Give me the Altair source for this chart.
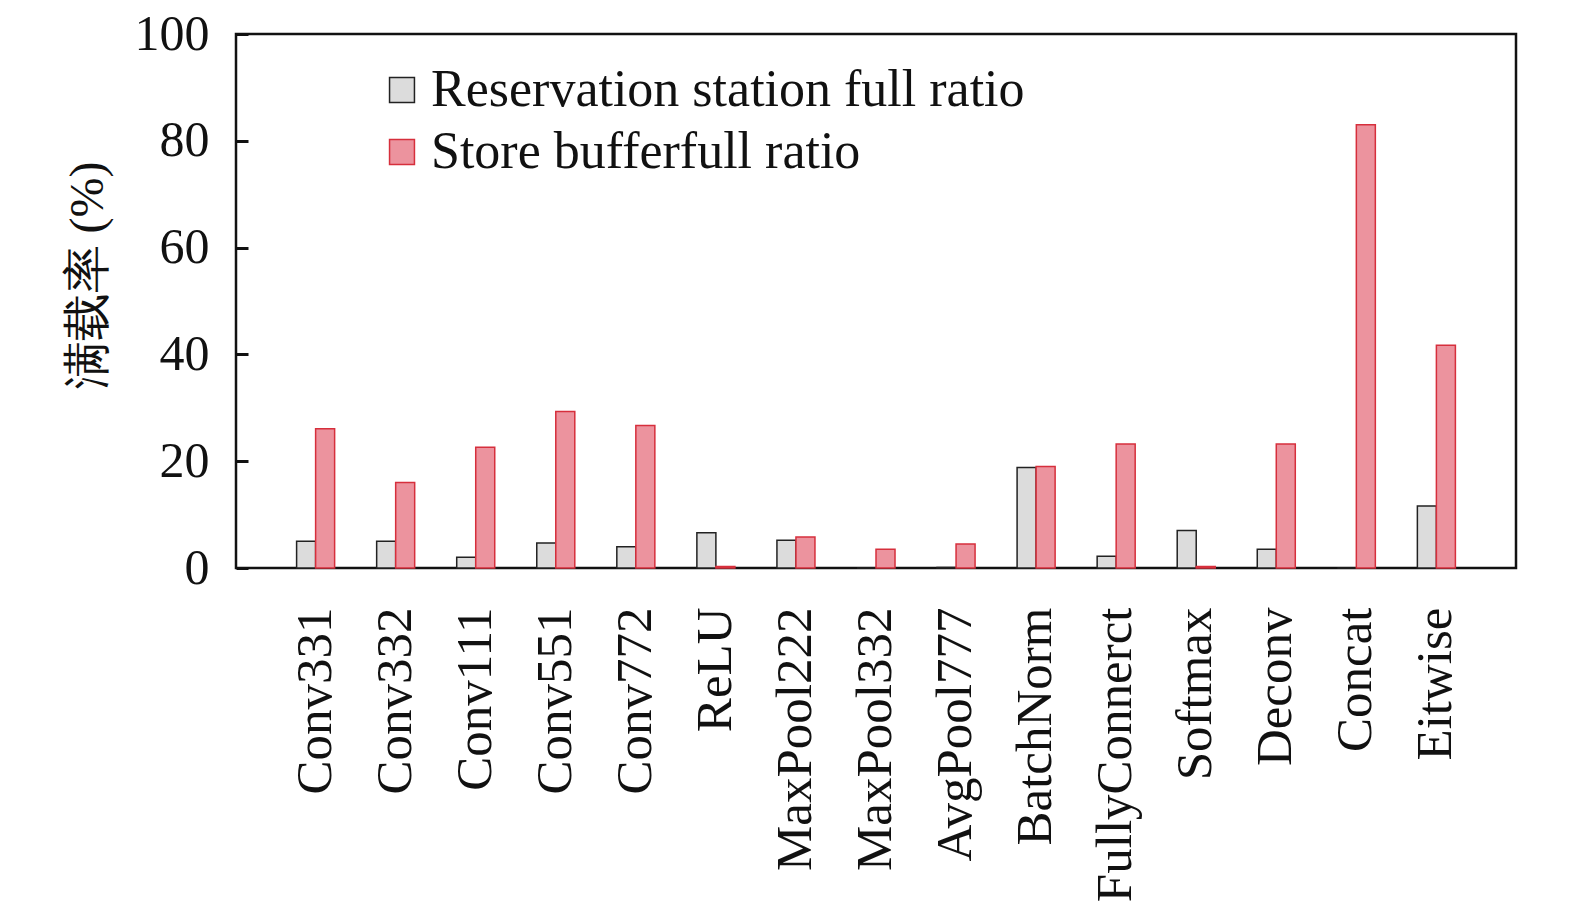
import altair as alt
import pandas as pd

categories = ["Conv331", "Conv332", "Conv111", "Conv551", "Conv772", "ReLU",
              "MaxPool222", "MaxPool332", "AvgPool777", "BatchNorm",
              "FullyConnerct", "Softmax", "Deconv", "Concat", "Eitwise"]
reservation = [5.0, 5.0, 2.0, 4.7, 4.0, 6.6, 5.2, 0.0, 0.1, 18.8, 2.2, 7.0, 3.5, 0.0, 11.6]
store = [26.1, 16.0, 22.6, 29.3, 26.7, 0.3, 5.8, 3.5, 4.5, 19.0, 23.2, 0.3, 23.2, 83.0, 41.7]
series = ["Reservation station full ratio", "Store bufferfull ratio"]
y_ticks = [0, 20, 40, 60, 80, 100]

rows = []
for c, r, s in zip(categories, reservation, store):
    rows.append({"layer": c, "series": series[0], "value": r})
    rows.append({"layer": c, "series": series[1], "value": s})
df = pd.DataFrame(rows)

FONT = "Liberation Serif"

legend_kw = dict(title=None, orient="none", legendX=140, legendY=30,
                 symbolType="square", symbolSize=620, symbolStrokeWidth=1.5,
                 labelFont=FONT, labelFontSize=52, labelColor="#111",
                 labelLimit=1000, rowPadding=10, labelOffset=3)

chart = alt.Chart(df).mark_bar(strokeWidth=1.5).encode(
    x=alt.X("layer:N", sort=categories,
            scale=alt.Scale(paddingInner=0.525, paddingOuter=0.757),
            axis=alt.Axis(title=None, labelAngle=-90, labelAlign="right",
                          labelBaseline="middle", ticks=False, tickSize=0,
                          domain=False, labelPadding=39, labelFont=FONT,
                          labelFontSize=51, labelColor="#111", labelLimit=1000)),
    xOffset=alt.XOffset("series:N", sort=series,
                        scale=alt.Scale(paddingInner=0, paddingOuter=0)),
    y=alt.Y("value:Q", scale=alt.Scale(domain=[0, 100], nice=False),
            axis=alt.Axis(values=y_ticks, title="满载率 (%)", grid=False,
                          domain=False, offset=-12, tickSize=12, tickWidth=3,
                          tickColor="#111", labelPadding=27, labelFont=FONT,
                          labelFontSize=50, labelColor="#111",
                          titleFont=FONT, titleFontSize=48, titleFontWeight="normal",
                          titleColor="#111", titleAngle=-90, titleX=-136, titleY=241,
                          titleAlign="center", titleBaseline="bottom")),
    fill=alt.Fill("series:N", sort=series,
                  scale=alt.Scale(domain=series, range=["#dcdcdc", "#ec939e"]),
                  legend=alt.Legend(**legend_kw)),
    stroke=alt.Stroke("series:N", sort=series,
                      scale=alt.Scale(domain=series, range=["#222222", "#d62f3c"]),
                      legend=alt.Legend(**legend_kw)),
).properties(
    width=1280, height=534,
    background="white",
    autosize=alt.AutoSizeParams(type="none"),
    padding={"left": 228, "top": 26, "right": 45, "bottom": 341},
).configure_view(
    stroke="#111", strokeWidth=2.5
)

chart.save("out.html", embed_options={"renderer": "svg", "actions": False})
